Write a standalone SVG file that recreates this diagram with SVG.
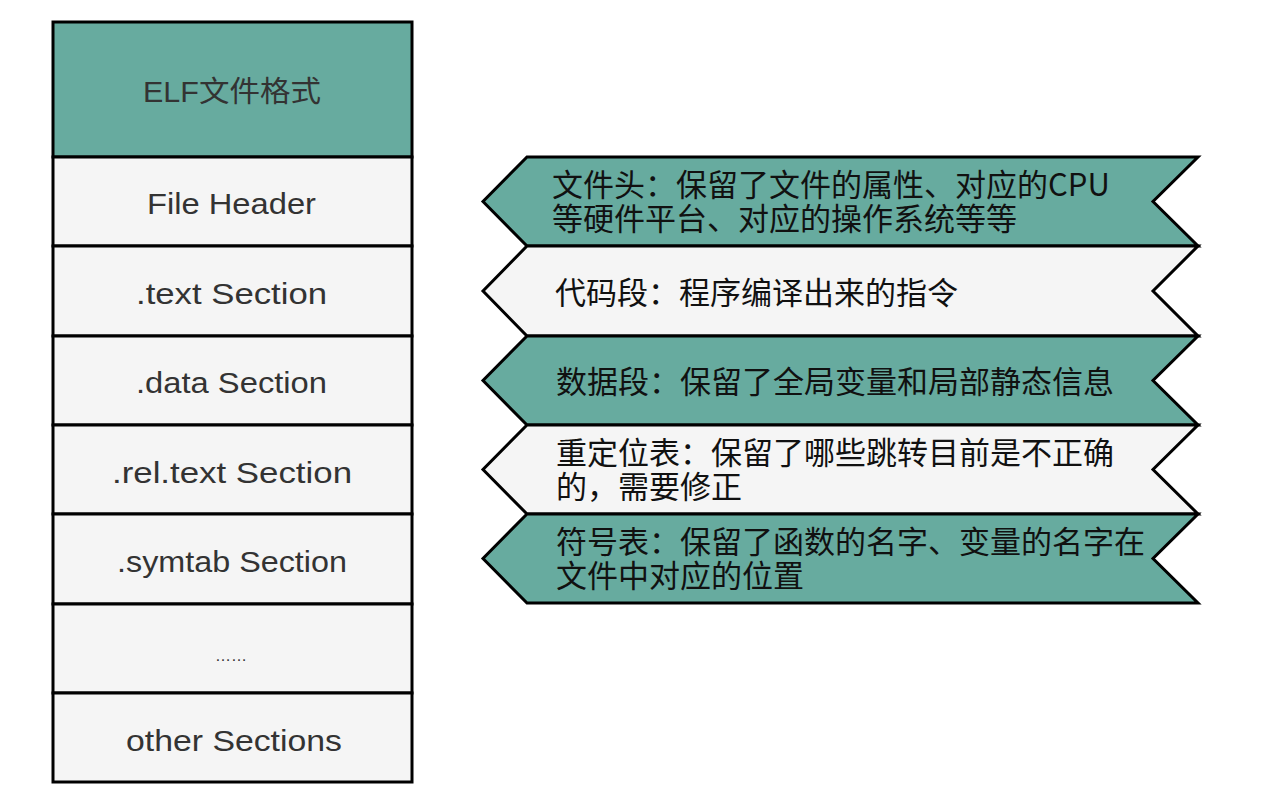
<svg xmlns="http://www.w3.org/2000/svg" width="1265" height="809" viewBox="0 0 1265 809">
  <style>
    .cell { stroke: #000; stroke-width: 3; }
    .teal { fill: #67ab9f; }
    .gray { fill: #f5f5f5; }
    .sec { font-family: "Liberation Sans", "Noto Sans CJK SC", sans-serif; font-size: 29px; fill: #333; text-anchor: middle; }
    .note { font-family: "Noto Sans CJK SC", "Noto Sans", sans-serif; font-size: 31px; fill: #111; }
  </style>
  <rect width="1265" height="809" fill="#ffffff"/>

  <!-- ELF layout column -->
  <g id="elf-title">
    <rect class="cell teal" x="53" y="22" width="359" height="135"/>
    <text class="sec" x="232" y="102" textLength="178" lengthAdjust="spacingAndGlyphs">ELF文件格式</text>
  </g>
  <g id="file-header">
    <rect class="cell gray" x="53" y="157" width="359" height="89"/>
    <text class="sec" x="231.5" y="214" textLength="169" lengthAdjust="spacingAndGlyphs">File Header</text>
  </g>
  <g id="text-section">
    <rect class="cell gray" x="53" y="246" width="359" height="90"/>
    <text class="sec" x="231.5" y="304" textLength="191" lengthAdjust="spacingAndGlyphs">.text Section</text>
  </g>
  <g id="data-section">
    <rect class="cell gray" x="53" y="336" width="359" height="89"/>
    <text class="sec" x="231.5" y="393" textLength="191" lengthAdjust="spacingAndGlyphs">.data Section</text>
  </g>
  <g id="rel-text-section">
    <rect class="cell gray" x="53" y="425" width="359" height="89"/>
    <text class="sec" x="232" y="483" textLength="240" lengthAdjust="spacingAndGlyphs">.rel.text Section</text>
  </g>
  <g id="symtab-section">
    <rect class="cell gray" x="53" y="514" width="359" height="90"/>
    <text class="sec" x="232" y="572" textLength="230" lengthAdjust="spacingAndGlyphs">.symtab Section</text>
  </g>
  <g id="more-sections">
    <rect class="cell gray" x="53" y="604" width="359" height="89"/>
    <text class="sec" x="231" y="661" style="font-size:16px">……</text>
  </g>
  <g id="other-sections">
    <rect class="cell gray" x="53" y="693" width="359" height="89"/>
    <text class="sec" x="234" y="751" textLength="216" lengthAdjust="spacingAndGlyphs">other Sections</text>
  </g>

  <!-- description tags -->
  <g id="note-header">
    <polygon class="cell teal" points="527,157 1198,157 1153,201.5 1198,246 527,246 483,201.5"/>
    <text class="note" x="552" y="196">文件头：保留了文件的属性、对应的CPU</text>
    <text class="note" x="552" y="230">等硬件平台、对应的操作系统等等</text>
  </g>
  <g id="note-text">
    <polygon class="cell gray" points="527,246 1198,246 1153,291 1198,336 527,336 483,291"/>
    <text class="note" x="555" y="304">代码段：程序编译出来的指令</text>
  </g>
  <g id="note-data">
    <polygon class="cell teal" points="527,336 1198,336 1153,380.5 1198,425 527,425 483,380.5"/>
    <text class="note" x="556" y="393">数据段：保留了全局变量和局部静态信息</text>
  </g>
  <g id="note-rel">
    <polygon class="cell gray" points="527,425 1198,425 1153,469.5 1198,514 527,514 483,469.5"/>
    <text class="note" x="556" y="464">重定位表：保留了哪些跳转目前是不正确</text>
    <text class="note" x="556" y="498">的，需要修正</text>
  </g>
  <g id="note-symtab">
    <polygon class="cell teal" points="527,514 1198,514 1153,558.5 1198,603 527,603 483,558.5"/>
    <text class="note" x="556" y="553">符号表：保留了函数的名字、变量的名字在</text>
    <text class="note" x="556" y="587">文件中对应的位置</text>
  </g>

  <!-- no connectors in this figure -->
  <g id="connectors"/>
</svg>
